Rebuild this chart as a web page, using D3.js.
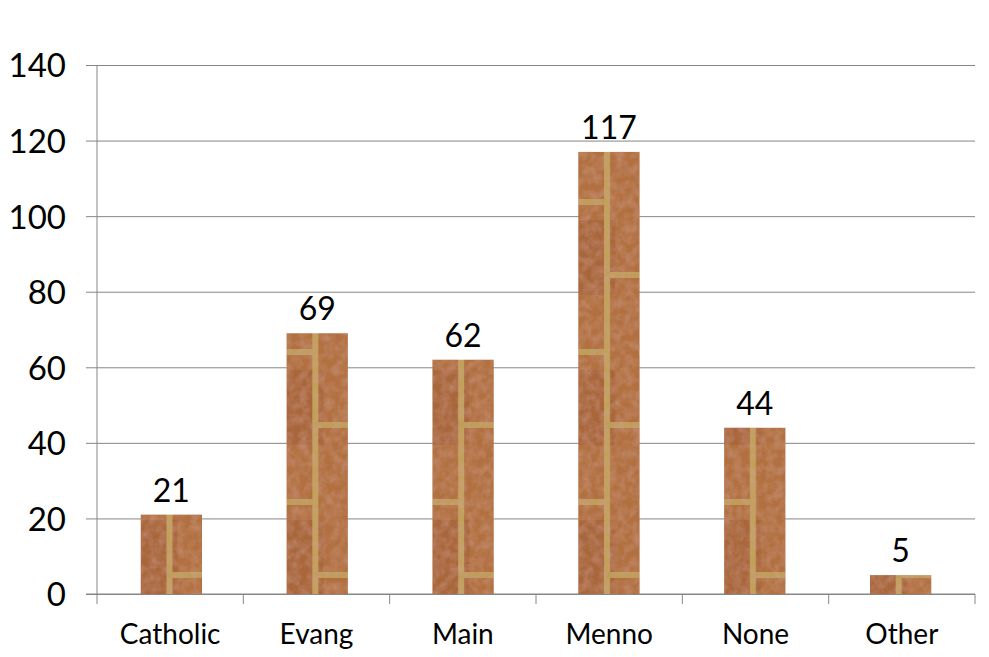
<!DOCTYPE html>
<html lang="en">
<head>
  <meta charset="UTF-8">
  <title>Religion Bar</title>
  <style>
    body { margin: 0; background: #fff; }
    text { font-family: Lato, "Open Sans", sans-serif; fill: #000; }
  </style>
</head>
<body>
  <div id="chart"></div>

  <script src="https://d3js.org/d3.v7.min.js"></script>
  <script>

    const categories = ["Catholic", "Evang", "Main", "Menno", "None", "Other"];
    const counts = [21, 69, 62, 117, 44, 5];
    const yTicks = [0, 20, 40, 60, 80, 100, 120, 140];

    const width = 989,
          height = 657,
          margin = {top: 65, right: 14, bottom: 63, left: 97};

    const svg = d3.select("#chart")
      .append("svg")
      .attr("width", width)
      .attr("height", height);

    const x = d3.scaleBand(categories, [margin.left, width - margin.right])
      .paddingInner(0.58)
      .paddingOuter(0.3);

    const band = (width - margin.left - margin.right) / categories.length;

    const y = d3.scaleLinear([0, 140], [height - margin.bottom, margin.top]);

    // gridlines
    svg.append("g")
      .attr("transform", `translate(${margin.left},0)`)
      .call(d3.axisLeft(y).tickValues(yTicks)
        .tickSize(-(width - margin.left - margin.right)).tickSizeOuter(0).tickPadding(31))
      .call(g => g.select(".domain").remove())
      .call(g => g.selectAll(".tick line").attr("stroke", "#868686").attr("x1", -11))
      .call(g => g.selectAll(".tick text").attr("font-size", 33).attr("dy", "0.36em"));

    svg.append("line")
      .attr("x1", margin.left).attr("x2", margin.left)
      .attr("y1", y(140)).attr("y2", y(0))
      .attr("stroke", "#868686");

    // bottom axis with category separators
    const bottom = svg.append("g")
      .attr("transform", `translate(0,${y(0)})`);
    bottom.append("line")
      .attr("x1", margin.left - 11).attr("x2", width - margin.right)
      .attr("stroke", "#868686");
    bottom.selectAll(".sep")
      .data(d3.range(categories.length + 1))
      .join("line")
      .attr("x1", i => margin.left + i * band)
      .attr("x2", i => margin.left + i * band)
      .attr("y1", 0).attr("y2", 10)
      .attr("stroke", "#868686");
    bottom.selectAll(".lab")
      .data(categories)
      .join("text")
      .attr("x", d => margin.left + (categories.indexOf(d) + 0.5) * band)
      .attr("y", 50)
      .attr("text-anchor", "middle")
      .attr("font-size", 28)
      .text(d => d);

    // brick texture
    const defs = svg.append("defs");
    const noise = defs.append("filter").attr("id", "grain")
      .attr("x", 0).attr("y", 0).attr("width", "100%").attr("height", "100%");
    noise.append("feTurbulence")
      .attr("type", "fractalNoise").attr("baseFrequency", 0.12).attr("numOctaves", 3).attr("seed", 4);
    noise.append("feColorMatrix")
      .attr("values", "0 0 0 0 0.62  0 0 0 0 0.36  0 0 0 0 0.3  1.4 0 0 0 -0.45");
    noise.append("feComposite").attr("in2", "SourceGraphic").attr("operator", "in");

    const bw = x.bandwidth();
    categories.forEach((c, i) => {
      const p = defs.append("pattern")
        .attr("id", "brick" + i)
        .attr("patternUnits", "userSpaceOnUse")
        .attr("x", x(c)).attr("y", 0)
        .attr("width", bw).attr("height", 150);
      p.append("rect").attr("width", bw).attr("height", 150).attr("fill", "#b27040");
      p.append("rect").attr("x", 0).attr("y", 70).attr("width", bw * 0.6).attr("height", 75)
        .attr("fill", "#a9663b");
      p.append("rect").attr("x", bw * 0.42).attr("y", 0).attr("width", 6).attr("height", 150)
        .attr("fill", "#c2a05a");
      p.append("rect").attr("x", 0).attr("y", 49).attr("width", bw * 0.42).attr("height", 6)
        .attr("fill", "#bf9c58");
      p.append("rect").attr("x", bw * 0.42).attr("y", 122).attr("width", bw * 0.58).attr("height", 6)
        .attr("fill", "#bf9c58");
    });

    const bars = svg.append("g")
      .selectAll("g")
      .data(categories)
      .join("g");

    bars.append("rect")
      .attr("x", d => x(d))
      .attr("y", (d, i) => y(counts[i]))
      .attr("width", bw)
      .attr("height", (d, i) => y(0) - y(counts[i]))
      .attr("fill", (d, i) => `url(#brick${i})`);

    bars.append("rect")
      .attr("x", d => x(d))
      .attr("y", (d, i) => y(counts[i]))
      .attr("width", bw)
      .attr("height", (d, i) => y(0) - y(counts[i]))
      .attr("fill", "#000")
      .attr("filter", "url(#grain)")
      .attr("opacity", 0.6);

    bars.append("text")
      .attr("x", d => x(d) + bw / 2)
      .attr("y", (d, i) => y(counts[i]) - 13)
      .attr("text-anchor", "middle")
      .attr("font-size", 32)
      .text((d, i) => counts[i]);

  </script>
</body>
</html>
